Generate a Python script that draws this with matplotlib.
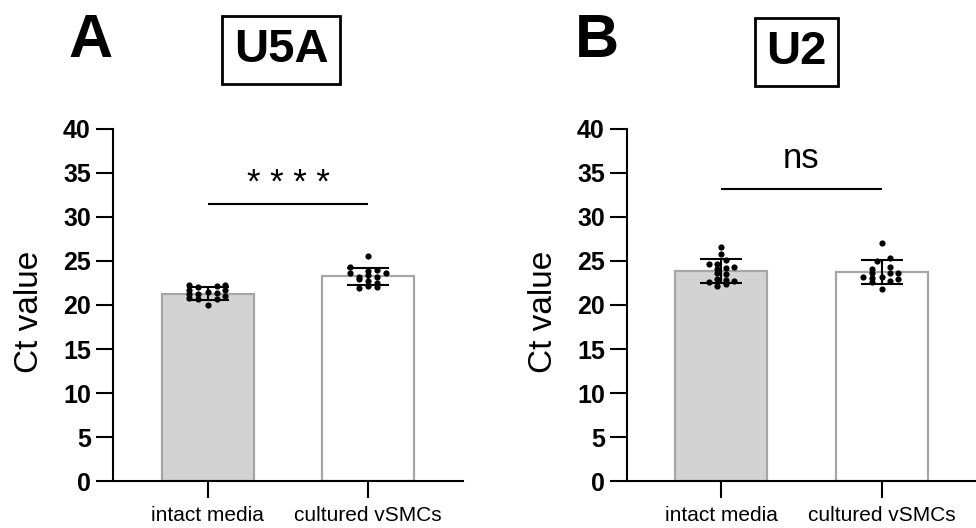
import matplotlib
matplotlib.use('Agg')
import matplotlib.pyplot as plt
import numpy as np

plt.rcParams['font.family'] = ['Liberation Sans', 'DejaVu Sans']

# Categories and summary values
groups = ['intact media', 'cultured vSMCs']

u5a_means = [21.3, 23.25]
u5a_sds = [0.70, 1.00]
u2_means = [23.9, 23.75]
u2_sds = [1.36, 1.36]

# Individual points: values and small horizontal spread
u5a_intact = [22.3, 21.7, 21.2, 20.8, 22.0, 21.3, 20.7, 21.5, 20.0, 22.1, 21.4, 20.7, 22.3, 21.7, 21.0]
u5a_intact_dx = [-0.115, -0.115, -0.115, -0.115, -0.06, -0.06, -0.06, 0.0, 0.0, 0.055, 0.055, 0.055, 0.11, 0.11, 0.11]
u5a_cult = [24.3, 23.6, 23.0, 21.9, 25.5, 23.9, 23.4, 22.7, 22.2, 24.0, 23.2, 22.5, 22.0, 23.6, 23.2]
u5a_cult_dx = [-0.115, -0.115, -0.06, -0.06, 0.0, 0.0, 0.0, 0.0, 0.0, 0.056, 0.056, 0.056, 0.056, 0.11, -0.06]

u2_intact = [26.6, 25.8, 24.6, 24.7, 25.1, 24.1, 24.2, 24.3, 23.6, 23.5, 23.0, 22.8, 22.6, 22.7, 22.1, 22.4]
u2_intact_dx = [0.0, 0.0, -0.08, -0.03, 0.03, -0.03, 0.03, 0.08, -0.03, 0.03, -0.03, 0.03, -0.08, 0.08, -0.03, 0.03]
u2_cult = [27.0, 25.0, 25.3, 24.1, 24.3, 23.6, 23.2, 23.1, 23.2, 23.6, 23.6, 23.0, 22.7, 22.6, 21.8]
u2_cult_dx = [0.0, -0.03, 0.05, -0.06, 0.05, -0.06, -0.115, -0.06, 0.0, 0.05, 0.105, 0.105, 0.05, -0.06, 0.0]

yticks = [0, 5, 10, 15, 20, 25, 30, 35, 40]

W, H = 976, 528
fig = plt.figure(figsize=(W / 100, H / 100), dpi=100)

ax_bottom = (H - 481.4) / H
ax_height = 352.8 / H
ax1 = fig.add_axes([113 / W, ax_bottom, 350 / W, ax_height])
ax2 = fig.add_axes([627 / W, ax_bottom, 349 / W, ax_height])


def draw_panel(ax, means, sds, pts, dxs, sig_text, sig_y, text_y, text_size):
    x = np.arange(len(groups))
    ax.bar(x, means, width=0.575, color=['#d3d3d3', 'white'],
           edgecolor='#a6a6a6', linewidth=1.6, zorder=1)
    for i, (vals, dx) in enumerate(zip(pts, dxs)):
        ax.scatter(i + np.array(dx), vals, s=20, color='black', zorder=4, linewidths=0)
    ax.errorbar(x, means, yerr=sds, fmt='none', ecolor='black', elinewidth=1.5,
                capsize=15, capthick=1.5, zorder=3)

    # significance bar
    ax.plot([0, 1], [sig_y, sig_y], color='black', lw=1.5, solid_capstyle='butt')
    ax.text(0.5, text_y, sig_text, ha='center', va='baseline', fontsize=text_size)

    ax.set_xlim(-0.59, 1.59)
    ax.set_ylim(0, 40)
    ax.set_xticks(x)
    ax.set_xticklabels(groups, fontsize=15)
    ax.set_yticks(yticks)
    ax.set_yticklabels([str(t) for t in yticks], fontsize=18, fontweight='bold')
    ax.tick_params(axis='y', length=12, width=1.5, pad=4)
    ax.tick_params(axis='x', length=12, width=1.5, pad=6)
    for s in ['top', 'right']:
        ax.spines[s].set_visible(False)
    for s in ['left', 'bottom']:
        ax.spines[s].set_linewidth(1.5)
    ax.set_ylabel('Ct value', fontsize=24)
    ax.yaxis.set_label_coords(-0.195, 0.48)


draw_panel(ax1, u5a_means, u5a_sds, [u5a_intact, u5a_cult], [u5a_intact_dx, u5a_cult_dx],
           '* * * *', 31.5, 32.7, 25)
draw_panel(ax2, u2_means, u2_sds, [u2_intact, u2_cult], [u2_intact_dx, u2_cult_dx],
           'ns', 33.1, 35.5, 25)

# panel letters and boxed titles
fig.text(91 / W, 1 - 57 / H, 'A', fontsize=44, fontweight='bold', ha='center', va='baseline')
fig.text(596.5 / W, 1 - 56.7 / H, 'B', fontsize=44, fontweight='bold', ha='center', va='baseline')
box = dict(boxstyle='square,pad=0.25', facecolor='white', edgecolor='black', linewidth=2)
fig.text(281 / W, 1 - 50 / H, 'U5A', fontsize=34, fontweight='bold', ha='center', va='center', bbox=box)
fig.text(796.5 / W, 1 - 51.7 / H, 'U2', fontsize=34, fontweight='bold', ha='center', va='center', bbox=box)

fig.savefig('out.png', dpi=100)
